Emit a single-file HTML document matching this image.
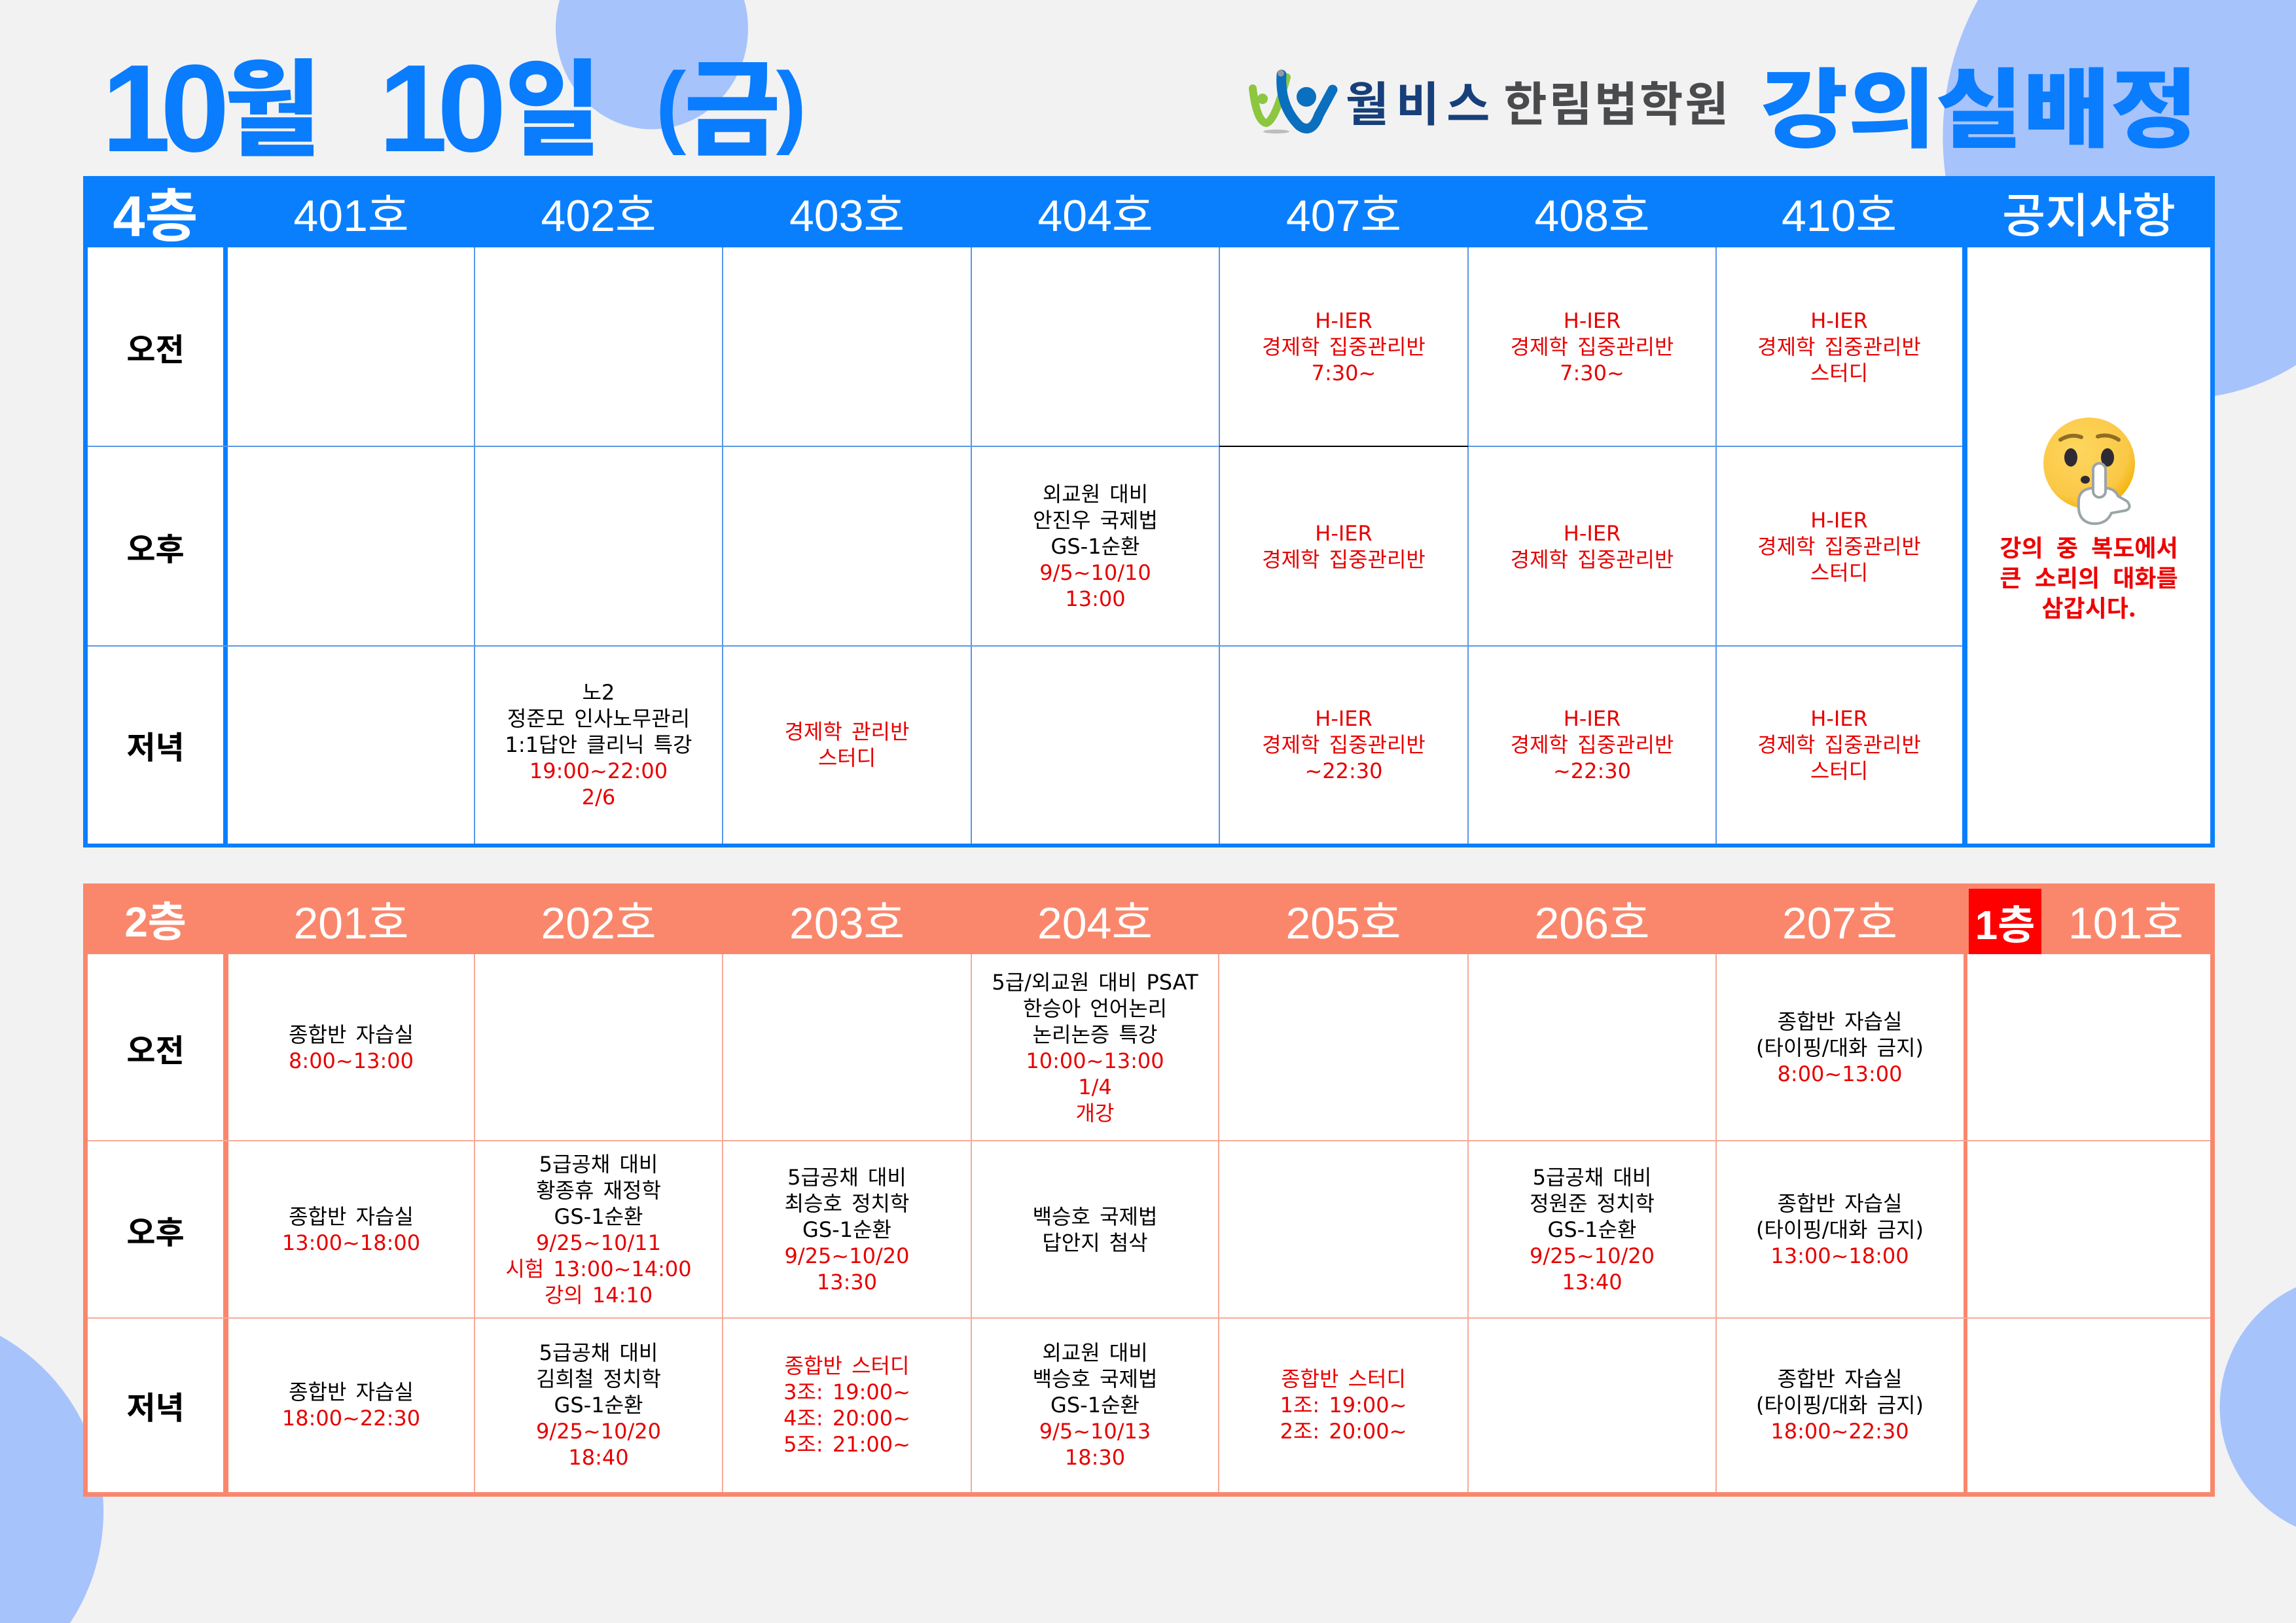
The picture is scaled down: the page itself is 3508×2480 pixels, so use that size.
<!DOCTYPE html>
<html><head><meta charset="utf-8">
<style>
*{margin:0;padding:0;box-sizing:border-box}
html,body{width:3508px;height:2480px;overflow:hidden;background:#f2f2f2}
#pg{position:relative;width:3508px;height:2480px;overflow:hidden;background:#f2f2f2;font-family:"Liberation Sans","Noto Sans CJK KR",sans-serif;contain:strict}
svg{display:block}
.a{position:absolute}
.t{position:absolute;color:#0a7cfe;text-align:center;white-space:nowrap}
.dg{font:bold 190px/190px "Liberation Sans","Noto Sans CJK KR",sans-serif;top:71px;height:190px;letter-spacing:-16px}
.hg{font:900 160px/160px "Noto Sans CJK KR",sans-serif;top:75px;height:160px}
.pr{font:bold 140px/140px "Liberation Sans",sans-serif;top:90px;height:140px}
.c{position:absolute;display:flex;flex-direction:column;align-items:center;justify-content:center;text-align:center;font-family:"DejaVu Sans","Noto Sans CJK KR",sans-serif;font-size:32px;line-height:40px;white-space:nowrap;word-spacing:4px;color:#000;overflow:hidden}
.c div{white-space:nowrap}
.r{color:#e60000}
.h{position:absolute;display:flex;align-items:center;justify-content:center;color:#fff;font-family:"Liberation Sans","Noto Sans CJK KR",sans-serif;font-size:68px;white-space:nowrap;overflow:hidden}
.lab{position:absolute;display:flex;align-items:center;justify-content:center;font-family:"Noto Sans CJK KR",sans-serif;font-size:48px;font-weight:bold;color:#000}
.bt{position:absolute;background:#0a7ffe}
.bl{position:absolute;background:#5a98e6}
.st{position:absolute;background:#fa876c}
.sl{position:absolute;background:#f5ab98}
</style></head><body>
<div id="pg">

<!-- background circles -->
<svg class="a" style="left:0;top:0" width="3508" height="2480" viewBox="0 0 3508 2480">
<g fill="#a7c3fc">
<path d="M855 0 A147 154 0 1 0 1137 0 Z"/>
<path d="M3022 0 A362 400 0 0 0 3508 558 L3508 0 Z"/>
<path d="M3508 1967 A202 202 0 0 0 3508 2333 Z"/>
<path d="M0 2041 A308 308 0 0 1 107 2480 L0 2480 Z"/>
</g>
</svg>

<!-- title -->
<div class="t dg" style="left:95px;width:300px">10</div>
<div class="t hg" style="left:266px;width:300px">월</div>
<div class="t dg" style="left:518px;width:300px">10</div>
<div class="t hg" style="left:695px;width:300px">일</div>
<div class="t pr" style="left:875px;width:300px">(</div>
<div class="t hg" style="left:969px;width:300px">금</div>
<div class="t pr" style="left:1059px;width:300px">)</div>

<div class="t" style="left:2624px;width:800px;top:92px;height:132px;font:900 132px/132px 'Noto Sans CJK KR',sans-serif;letter-spacing:0;transform:scaleX(1.1);transform-origin:50% 50%;color:#0a7cfe">강의실배정</div>

<!-- logo -->
<svg class="a" style="left:1900px;top:100px" width="150" height="110" viewBox="1900 100 150 110">
<ellipse cx="1950" cy="201" rx="20" ry="3" fill="#bdbdbd"/>
<path d="M1914 135 Q1920 186 1935 188 Q1948 185 1966 118" stroke="#8dc63f" stroke-width="12" fill="none" stroke-linecap="round"/>
<circle cx="1929" cy="151" r="8" fill="#8dc63f"/>
<path d="M1958 114 Q1955 162 1985 192 Q2004 206 2015 176 L2036 137" stroke="#0a6fbf" stroke-width="15" fill="none" stroke-linecap="round"/>
<circle cx="1957" cy="112" r="5" fill="#9a9a9a"/>
<circle cx="1996" cy="148" r="15" fill="#0a6fbf"/>
</svg>
<div class="t" style="left:1966px;width:400px;top:118px;height:72px;font:bold 72px/72px 'Noto Sans CJK KR',sans-serif;letter-spacing:11px;padding-left:11px;color:#173f7a">월비스</div>
<div class="t" style="left:2219px;width:500px;top:118px;height:72px;font:bold 72px/72px 'Noto Sans CJK KR',sans-serif;letter-spacing:3px;padding-left:3px;color:#4a4b4d">한림법학원</div>

<!-- ============ TOP TABLE ============ -->
<div class="a" style="left:127px;top:378px;width:3257px;height:917px;background:#fff"></div>
<div class="bt" style="left:127px;top:269px;width:3257px;height:109px"></div>
<div class="bt" style="left:127px;top:378px;width:7px;height:917px"></div>
<div class="bt" style="left:3377px;top:378px;width:7px;height:917px"></div>
<div class="bt" style="left:127px;top:1289px;width:3257px;height:6px"></div>
<div class="bt" style="left:341px;top:378px;width:7px;height:911px"></div>
<div class="bt" style="left:2998px;top:378px;width:8px;height:911px"></div>
<div class="bl" style="left:724px;top:378px;width:2px;height:911px"></div>
<div class="bl" style="left:1103px;top:378px;width:2px;height:911px"></div>
<div class="bl" style="left:1483px;top:378px;width:2px;height:911px"></div>
<div class="bl" style="left:1862px;top:378px;width:2px;height:911px"></div>
<div class="bl" style="left:2242px;top:378px;width:2px;height:911px"></div>
<div class="bl" style="left:2621px;top:378px;width:2px;height:911px"></div>
<div class="bl" style="left:134px;top:681px;width:2864px;height:2px"></div>
<div class="bl" style="left:134px;top:986px;width:2864px;height:2px"></div>
<div class="a" style="left:1863px;top:681px;width:380px;height:2px;background:#000"></div>

<div class="h" style="left:134px;top:269px;width:207px;height:109px;font-size:88px;font-weight:bold">4층</div>
<div class="h" style="left:348px;top:269px;width:377px;height:109px">401호</div>
<div class="h" style="left:725px;top:269px;width:379px;height:109px">402호</div>
<div class="h" style="left:1104px;top:269px;width:380px;height:109px">403호</div>
<div class="h" style="left:1484px;top:269px;width:379px;height:109px">404호</div>
<div class="h" style="left:1863px;top:269px;width:380px;height:109px">407호</div>
<div class="h" style="left:2243px;top:269px;width:379px;height:109px">408호</div>
<div class="h" style="left:2622px;top:269px;width:376px;height:109px">410호</div>
<div class="h" style="left:3006px;top:269px;width:371px;height:109px;font-size:72px;font-weight:500">공지사항</div>

<div class="lab" style="left:134px;top:378px;width:207px;height:304px">오전</div>
<div class="lab" style="left:134px;top:682px;width:207px;height:305px">오후</div>
<div class="lab" style="left:134px;top:987px;width:207px;height:302px">저녁</div>

<!-- 402 evening -->
<div class="c" style="left:725px;top:987px;width:379px;height:302px">
<div>노2</div><div>정준모 인사노무관리</div><div>1:1답안 클리닉 특강</div><div class="r">19:00~22:00</div><div class="r">2/6</div></div>
<!-- 403 evening -->
<div class="c r" style="left:1104px;top:987px;width:380px;height:302px">
<div>경제학 관리반</div><div>스터디</div></div>
<!-- 404 afternoon -->
<div class="c" style="left:1484px;top:682px;width:379px;height:305px">
<div>외교원 대비</div><div>안진우 국제법</div><div>GS-1순환</div><div class="r">9/5~10/10</div><div class="r">13:00</div></div>
<!-- 407 -->
<div class="c r" style="left:1863px;top:378px;width:380px;height:304px"><div>H-IER</div><div>경제학 집중관리반</div><div>7:30~</div></div>
<div class="c r" style="left:1863px;top:682px;width:380px;height:305px"><div>H-IER</div><div>경제학 집중관리반</div></div>
<div class="c r" style="left:1863px;top:987px;width:380px;height:302px"><div>H-IER</div><div>경제학 집중관리반</div><div>~22:30</div></div>
<!-- 408 -->
<div class="c r" style="left:2243px;top:378px;width:379px;height:304px"><div>H-IER</div><div>경제학 집중관리반</div><div>7:30~</div></div>
<div class="c r" style="left:2243px;top:682px;width:379px;height:305px"><div>H-IER</div><div>경제학 집중관리반</div></div>
<div class="c r" style="left:2243px;top:987px;width:379px;height:302px"><div>H-IER</div><div>경제학 집중관리반</div><div>~22:30</div></div>
<!-- 410 -->
<div class="c r" style="left:2622px;top:378px;width:376px;height:304px"><div>H-IER</div><div>경제학 집중관리반</div><div>스터디</div></div>
<div class="c r" style="left:2622px;top:682px;width:376px;height:305px"><div>H-IER</div><div>경제학 집중관리반</div><div>스터디</div></div>
<div class="c r" style="left:2622px;top:987px;width:376px;height:302px"><div>H-IER</div><div>경제학 집중관리반</div><div>스터디</div></div>

<!-- notice -->
<svg class="a" style="left:3100px;top:620px" width="180" height="200" viewBox="3100 620 180 200">
<defs><radialGradient id="yg" cx="40%" cy="35%" r="70%"><stop offset="0" stop-color="#fdd65e"/><stop offset="0.75" stop-color="#fbc846"/><stop offset="1" stop-color="#f3b000"/></radialGradient></defs>
<circle cx="3192" cy="708" r="70" fill="url(#yg)"/>
<path d="M3148 672 Q3164 662 3180 668" stroke="#8f6d24" stroke-width="6" fill="none" stroke-linecap="round"/>
<path d="M3205 667 Q3222 662 3237 672" stroke="#8f6d24" stroke-width="6" fill="none" stroke-linecap="round"/>
<ellipse cx="3164" cy="699" rx="10" ry="14" fill="#2e2a35"/>
<ellipse cx="3220" cy="699" rx="10" ry="14" fill="#2e2a35"/>
<ellipse cx="3186" cy="733" rx="7" ry="6" fill="#2e2a35"/>
<path d="M3176 770 Q3174 748 3196 746 L3220 746 Q3232 748 3236 758 L3250 766 Q3258 776 3248 780 L3226 784 Q3218 802 3196 800 Q3174 796 3176 770Z" fill="#fff" stroke="#9aa5a8" stroke-width="4"/>
<rect x="3198" y="708" width="19" height="52" rx="9.5" fill="#fff" stroke="#9aa5a8" stroke-width="4"/>
</svg>
<div class="a" style="left:3006px;top:812px;width:371px;text-align:center;font-family:'Noto Sans CJK KR',sans-serif;font-weight:bold;font-size:36px;line-height:46px;word-spacing:12px;color:#ee0000;white-space:nowrap">
<div>강의 중 복도에서</div><div>큰 소리의 대화를</div><div>삼갑시다.</div></div>

<!-- ============ BOTTOM TABLE ============ -->
<div class="a" style="left:127px;top:1458px;width:3257px;height:829px;background:#fff"></div>
<div class="st" style="left:127px;top:1350px;width:3257px;height:108px"></div>
<div class="st" style="left:127px;top:1458px;width:7px;height:829px"></div>
<div class="st" style="left:3377px;top:1458px;width:7px;height:829px"></div>
<div class="st" style="left:127px;top:2280px;width:3257px;height:7px"></div>
<div class="st" style="left:341px;top:1458px;width:8px;height:822px"></div>
<div class="st" style="left:3000px;top:1458px;width:6px;height:822px"></div>
<div class="sl" style="left:724px;top:1458px;width:2px;height:822px"></div>
<div class="sl" style="left:1103px;top:1458px;width:2px;height:822px"></div>
<div class="sl" style="left:1483px;top:1458px;width:2px;height:822px"></div>
<div class="sl" style="left:1861px;top:1458px;width:2px;height:822px"></div>
<div class="sl" style="left:2242px;top:1458px;width:2px;height:822px"></div>
<div class="sl" style="left:2621px;top:1458px;width:2px;height:822px"></div>
<div class="sl" style="left:134px;top:1742px;width:3243px;height:2px"></div>
<div class="sl" style="left:134px;top:2013px;width:3243px;height:2px"></div>
<div class="a" style="left:3008px;top:1358px;width:111px;height:100px;background:#ff0000"></div>

<div class="h" style="left:134px;top:1350px;width:207px;height:108px;font-size:64px;font-weight:bold">2층</div>
<div class="h" style="left:348px;top:1350px;width:377px;height:108px">201호</div>
<div class="h" style="left:725px;top:1350px;width:379px;height:108px">202호</div>
<div class="h" style="left:1104px;top:1350px;width:380px;height:108px">203호</div>
<div class="h" style="left:1484px;top:1350px;width:378px;height:108px">204호</div>
<div class="h" style="left:1862px;top:1350px;width:381px;height:108px">205호</div>
<div class="h" style="left:2243px;top:1350px;width:379px;height:108px">206호</div>
<div class="h" style="left:2622px;top:1350px;width:378px;height:108px">207호</div>
<div class="h" style="left:3008px;top:1358px;width:111px;height:100px;font-size:62px;font-weight:bold">1층</div>
<div class="h" style="left:3119px;top:1350px;width:258px;height:108px">101호</div>

<div class="lab" style="left:134px;top:1458px;width:207px;height:285px">오전</div>
<div class="lab" style="left:134px;top:1743px;width:207px;height:271px">오후</div>
<div class="lab" style="left:134px;top:2014px;width:207px;height:266px">저녁</div>

<!-- 201 -->
<div class="c" style="left:348px;top:1458px;width:377px;height:285px"><div>종합반 자습실</div><div class="r">8:00~13:00</div></div>
<div class="c" style="left:348px;top:1743px;width:377px;height:271px"><div>종합반 자습실</div><div class="r">13:00~18:00</div></div>
<div class="c" style="left:348px;top:2014px;width:377px;height:266px"><div>종합반 자습실</div><div class="r">18:00~22:30</div></div>
<!-- 202 -->
<div class="c" style="left:725px;top:1743px;width:379px;height:271px"><div>5급공채 대비</div><div>황종휴 재정학</div><div>GS-1순환</div><div class="r">9/25~10/11</div><div class="r">시험 13:00~14:00</div><div class="r">강의 14:10</div></div>
<div class="c" style="left:725px;top:2014px;width:379px;height:266px"><div>5급공채 대비</div><div>김희철 정치학</div><div>GS-1순환</div><div class="r">9/25~10/20</div><div class="r">18:40</div></div>
<!-- 203 -->
<div class="c" style="left:1104px;top:1743px;width:380px;height:271px"><div>5급공채 대비</div><div>최승호 정치학</div><div>GS-1순환</div><div class="r">9/25~10/20</div><div class="r">13:30</div></div>
<div class="c r" style="left:1104px;top:2014px;width:380px;height:266px"><div>종합반 스터디</div><div>3조: 19:00~</div><div>4조: 20:00~</div><div>5조: 21:00~</div></div>
<!-- 204 -->
<div class="c" style="left:1484px;top:1458px;width:378px;height:285px"><div>5급/외교원 대비 PSAT</div><div>한승아 언어논리</div><div>논리논증 특강</div><div class="r">10:00~13:00</div><div class="r">1/4</div><div class="r">개강</div></div>
<div class="c" style="left:1484px;top:1743px;width:378px;height:271px"><div>백승호 국제법</div><div>답안지 첨삭</div></div>
<div class="c" style="left:1484px;top:2014px;width:378px;height:266px"><div>외교원 대비</div><div>백승호 국제법</div><div>GS-1순환</div><div class="r">9/5~10/13</div><div class="r">18:30</div></div>
<!-- 205 -->
<div class="c r" style="left:1862px;top:2014px;width:381px;height:266px"><div>종합반 스터디</div><div>1조: 19:00~</div><div>2조: 20:00~</div></div>
<!-- 206 -->
<div class="c" style="left:2243px;top:1743px;width:379px;height:271px"><div>5급공채 대비</div><div>정원준 정치학</div><div>GS-1순환</div><div class="r">9/25~10/20</div><div class="r">13:40</div></div>
<!-- 207 -->
<div class="c" style="left:2622px;top:1458px;width:378px;height:285px"><div>종합반 자습실</div><div>(타이핑/대화 금지)</div><div class="r">8:00~13:00</div></div>
<div class="c" style="left:2622px;top:1743px;width:378px;height:271px"><div>종합반 자습실</div><div>(타이핑/대화 금지)</div><div class="r">13:00~18:00</div></div>
<div class="c" style="left:2622px;top:2014px;width:378px;height:266px"><div>종합반 자습실</div><div>(타이핑/대화 금지)</div><div class="r">18:00~22:30</div></div>

</div>
</body></html>
